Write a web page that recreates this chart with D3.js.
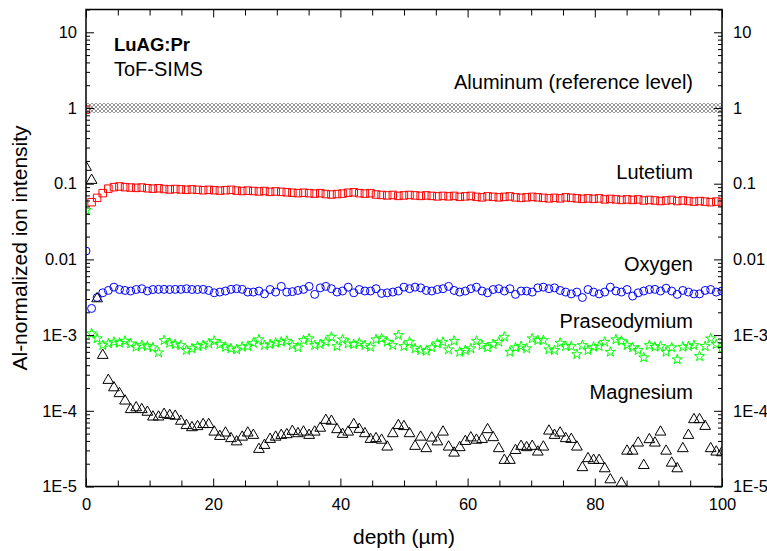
<!DOCTYPE html>
<html>
<head>
<meta charset="utf-8">
<script src="https://cdn.jsdelivr.net/npm/d3@7"></script>
<style>
  body { margin: 0; background: #fff; }
  svg { display: block; font-family: "Liberation Sans", Arial, sans-serif; }
</style>
</head>
<body>
<div id="chart"></div>
<script>
/* depth sampling (µm) */
var depth = [0, 0.88, 1.75, 2.63, 3.51, 4.39, 5.26, 6.14, 7.02, 7.89, 8.77, 9.65, 10.52, 11.40, 12.28, 13.16, 14.03, 14.91, 15.79, 16.66,
  17.54, 18.42, 19.29, 20.17, 21.05, 21.93, 22.80, 23.68, 24.56, 25.43, 26.31, 27.19, 28.06, 28.94, 29.82, 30.70, 31.57, 32.45, 33.33, 34.20,
  35.08, 35.96, 36.83, 37.71, 38.59, 39.47, 40.34, 41.22, 42.10, 42.97, 43.85, 44.73, 45.60, 46.48, 47.36, 48.24, 49.11, 49.99, 50.87, 51.74,
  52.62, 53.50, 54.37, 55.25, 56.13, 57.01, 57.88, 58.76, 59.64, 60.51, 61.39, 62.27, 63.14, 64.02, 64.90, 65.78, 66.65, 67.53, 68.41, 69.28,
  70.16, 71.04, 71.91, 72.79, 73.67, 74.55, 75.42, 76.30, 77.18, 78.05, 78.93, 79.81, 80.68, 81.56, 82.44, 83.32, 84.19, 85.07, 85.95, 86.82,
  87.70, 88.58, 89.45, 90.33, 91.21, 92.09, 92.96, 93.84, 94.72, 95.59, 96.47, 97.35, 98.22, 99.10, 99.98];

/* Al-normalisierte Intensitäten */
var lutetium = [0.95, 0.057, 0.065, 0.075, 0.086, 0.090, 0.092, 0.090, 0.089, 0.088, 0.089, 0.087, 0.086, 0.087, 0.085, 0.084, 0.085, 0.084, 0.083, 0.084,
  0.083, 0.082, 0.083, 0.082, 0.081, 0.082, 0.083, 0.081, 0.080, 0.081, 0.080, 0.079, 0.080, 0.078, 0.079, 0.078, 0.077, 0.076, 0.075, 0.076,
  0.075, 0.074, 0.075, 0.073, 0.072, 0.073, 0.074, 0.076, 0.077, 0.075, 0.074, 0.075, 0.072, 0.071, 0.070, 0.071, 0.069, 0.070, 0.071, 0.070,
  0.069, 0.070, 0.069, 0.068, 0.069, 0.068, 0.069, 0.067, 0.068, 0.069, 0.067, 0.066, 0.068, 0.067, 0.066, 0.067, 0.068, 0.066, 0.065, 0.066,
  0.067, 0.066, 0.065, 0.064, 0.065, 0.064, 0.066, 0.065, 0.064, 0.063, 0.064, 0.063, 0.064, 0.062, 0.063, 0.062, 0.061, 0.062, 0.061, 0.062,
  0.060, 0.061, 0.060, 0.059, 0.060, 0.061, 0.059, 0.060, 0.059, 0.058, 0.059, 0.058, 0.057, 0.058, 0.057];

var oxygen = [0.0129, 0.00225, 0.00314, 0.00362, 0.00389, 0.0043, 0.0040, 0.00389, 0.00382, 0.0040, 0.0041, 0.00382, 0.0040, 0.00402, 0.00402, 0.0040, 0.00402, 0.00402, 0.0041, 0.0040,
  0.0040, 0.00402, 0.00389, 0.00362, 0.0037, 0.00382, 0.00402, 0.0041, 0.00402, 0.0037, 0.0037, 0.00382, 0.0035, 0.0040, 0.0037, 0.0044, 0.0037, 0.00375, 0.00389, 0.00402,
  0.0044, 0.00345, 0.00421, 0.0044, 0.0041, 0.0037, 0.00382, 0.0043, 0.00362, 0.0040, 0.00382, 0.00382, 0.0041, 0.00355, 0.00362, 0.0037, 0.00382, 0.0043, 0.0041, 0.0043,
  0.00421, 0.00389, 0.00382, 0.0040, 0.0041, 0.0044, 0.00389, 0.0037, 0.00382, 0.0041, 0.0043, 0.00382, 0.00362, 0.0040, 0.0041, 0.00382, 0.0041, 0.00345, 0.00382, 0.00382,
  0.0037, 0.00421, 0.0043, 0.0041, 0.00421, 0.00389, 0.0037, 0.0035, 0.0037, 0.00314, 0.0040, 0.0037, 0.0035, 0.0037, 0.0043, 0.00382, 0.0037, 0.0040, 0.00328, 0.00362,
  0.00382, 0.0040, 0.00402, 0.00382, 0.00416, 0.00382, 0.00345, 0.00389, 0.0037, 0.0035, 0.0035, 0.00389, 0.0040, 0.0037, 0.00382];

var praseodymium = [0.0445, 1.05e-3, 0.90e-3, 0.733e-3, 0.772e-3, 0.811e-3, 0.787e-3, 0.836e-3, 0.772e-3, 0.697e-3, 0.733e-3, 0.711e-3, 0.684e-3, 0.587e-3, 0.853e-3, 0.787e-3, 0.755e-3, 0.733e-3, 0.630e-3, 0.664e-3,
  0.711e-3, 0.733e-3, 0.772e-3, 0.836e-3, 0.755e-3, 0.697e-3, 0.664e-3, 0.643e-3, 0.697e-3, 0.711e-3, 0.787e-3, 0.873e-3, 0.733e-3, 0.755e-3, 0.787e-3, 0.811e-3, 0.836e-3, 0.733e-3, 0.684e-3, 0.853e-3,
  0.90e-3, 0.733e-3, 0.755e-3, 0.811e-3, 0.944e-3, 0.711e-3, 0.873e-3, 0.772e-3, 0.755e-3, 0.787e-3, 0.733e-3, 0.697e-3, 0.873e-3, 0.90e-3, 0.811e-3, 0.733e-3, 0.994e-3, 0.711e-3, 0.811e-3, 0.664e-3,
  0.630e-3, 0.616e-3, 0.684e-3, 0.772e-3, 0.811e-3, 0.643e-3, 0.836e-3, 0.598e-3, 0.630e-3, 0.664e-3, 0.836e-3, 0.733e-3, 0.684e-3, 0.755e-3, 0.811e-3, 0.944e-3, 0.598e-3, 0.684e-3, 0.711e-3, 0.664e-3,
  0.90e-3, 0.853e-3, 0.853e-3, 0.643e-3, 0.630e-3, 0.787e-3, 0.711e-3, 0.711e-3, 0.557e-3, 0.733e-3, 0.630e-3, 0.697e-3, 0.711e-3, 0.811e-3, 0.598e-3, 0.873e-3, 0.836e-3, 0.733e-3, 0.684e-3, 0.630e-3,
  0.505e-3, 0.733e-3, 0.697e-3, 0.711e-3, 0.598e-3, 0.684e-3, 0.475e-3, 0.697e-3, 0.711e-3, 0.733e-3, 0.525e-3, 0.711e-3, 0.90e-3, 0.755e-3, 0.664e-3];

var magnesium = [0.165, 0.111, 0.00303, 5.41e-4, 2.53e-4, 2.02e-4, 1.69e-4, 1.35e-4, 1.04e-4, 1.10e-4, 1.04e-4, 0.96e-4, 0.83e-4, 0.83e-4, 0.90e-4, 0.87e-4, 0.85e-4, 0.73e-4, 0.64e-4, 0.60e-4,
  0.62e-4, 0.66e-4, 0.66e-4, 0.525e-4, 0.46e-4, 0.51e-4, 0.43e-4, 0.39e-4, 0.45e-4, 0.51e-4, 0.475e-4, 0.31e-4, 0.35e-4, 0.42e-4, 0.45e-4, 0.475e-4, 0.485e-4, 0.536e-4, 0.50e-4, 0.525e-4,
  0.475e-4, 0.525e-4, 0.59e-4, 0.75e-4, 0.73e-4, 0.565e-4, 0.49e-4, 0.525e-4, 0.66e-4, 0.57e-4, 0.50e-4, 0.42e-4, 0.43e-4, 0.41e-4, 0.333e-4, 0.50e-4, 0.64e-4, 0.62e-4, 0.50e-4, 0.34e-4,
  0.45e-4, 0.317e-4, 0.438e-4, 0.39e-4, 0.525e-4, 0.333e-4, 0.277e-4, 0.327e-4, 0.395e-4, 0.44e-4, 0.41e-4, 0.42e-4, 0.565e-4, 0.443e-4, 0.317e-4, 0.222e-4, 0.222e-4, 0.30e-4, 0.34e-4, 0.327e-4,
  0.34e-4, 0.286e-4, 0.333e-4, 0.541e-4, 0.475e-4, 0.51e-4, 0.43e-4, 0.42e-4, 0.333e-4, 0.178e-4, 0.234e-4, 0.222e-4, 0.222e-4, 0.172e-4, 0.123e-4, null, 0.111e-4, 0.294e-4, 0.294e-4, 0.376e-4,
  0.19e-4, 0.417e-4, 0.376e-4, 0.525e-4, 0.294e-4, 0.204e-4, 0.172e-4, 0.317e-4, 0.475e-4, 0.766e-4, 0.766e-4, 0.624e-4, 0.317e-4, 0.286e-4, 0.28e-4];

var aluminumLevel = 1;

/* Achsen */
var xTicks = [0, 20, 40, 60, 80, 100];
var xMinorTicks = [5, 10, 15, 25, 30, 35, 45, 50, 55, 65, 70, 75, 85, 90, 95];
var yTicks = [1e-5, 1e-4, 1e-3, 0.01, 0.1, 1, 10];
var yTickLabels = ["1E-5", "1E-4", "1E-3", "0.01", "0.1", "1", "10"];

/* Zeichenfläche */
var W = 767, H = 551;
var margin = {top: 9.5, right: 45, bottom: 64.5, left: 86};
var width = W - margin.left - margin.right,
    height = H - margin.top - margin.bottom;

var svg = d3.select("#chart").append("svg").attr("width", W).attr("height", H);
svg.append("rect").attr("width", W).attr("height", H).attr("fill", "white");

var x = d3.scaleLinear().domain([0, 100]).range([margin.left, margin.left + width]);
var y = d3.scaleLog().domain([1e-5, 20]).range([margin.top + height, margin.top]);

var yMinor = [];
yTicks.forEach(function(t) {
  for (var k = 2; k <= 9; k++) if (t * k <= 20) yMinor.push(t * k);
});

var defs = svg.append("defs");
defs.append("clipPath").attr("id", "plotclip").append("rect")
  .attr("x", margin.left).attr("y", margin.top).attr("width", width).attr("height", height);
var pat = defs.append("pattern").attr("id", "hatch").attr("patternUnits", "userSpaceOnUse")
  .attr("width", 4).attr("height", 4).attr("x", 0).attr("y", y(aluminumLevel) - 5);
pat.append("path").attr("d", "M0,0L4,4M4,0L0,4").attr("stroke", "#999").attr("stroke-width", 1).attr("fill", "none");

var plot = svg.append("g").attr("clip-path", "url(#plotclip)");

/* Aluminium-Referenzband */
plot.append("rect")
  .attr("x", x(0)).attr("width", x(100) - x(0))
  .attr("y", y(aluminumLevel) - 5).attr("height", 10)
  .attr("fill", "url(#hatch)");

function drawSeries(values, symbol, size, color) {
  var pts = depth.map(function(d, i) { return {d: d, v: values[i]}; })
    .filter(function(p) { return p.v != null; });
  plot.append("g").selectAll("path").data(pts).enter().append("path")
    .attr("transform", function(p) { return "translate(" + x(p.d) + "," + y(p.v) + ")"; })
    .attr("d", d3.symbol().type(symbol).size(size))
    .attr("fill", "none").attr("stroke", color).attr("stroke-width", 1);
}

drawSeries(lutetium, d3.symbolSquare, 56, "#ff0000");
drawSeries(oxygen, d3.symbolCircle, 50, "#0000ff");
drawSeries(praseodymium, d3.symbolStar, 32, "#00ff00");
drawSeries(magnesium, d3.symbolTriangle, 50, "#000000");

/* Ticks */
function styleAxis(g) {
  g.select(".domain").remove();
  g.selectAll("line").attr("stroke", "#000").attr("stroke-width", 1);
  g.selectAll("text").attr("font-size", "16.5px").attr("fill", "#000").attr("font-family", "Liberation Sans, Arial, sans-serif");
}

svg.append("g").attr("transform", "translate(0," + (margin.top + height) + ")")
  .call(d3.axisBottom(x).tickValues(xTicks).tickSize(-8).tickPadding(12).tickFormat(d3.format("d"))).call(styleAxis);
svg.append("g").attr("transform", "translate(0," + (margin.top + height) + ")")
  .call(d3.axisBottom(x).tickValues(xMinorTicks).tickSize(-6).tickFormat("")).call(styleAxis);
svg.append("g").attr("transform", "translate(0," + margin.top + ")")
  .call(d3.axisTop(x).tickValues(xTicks).tickSize(-8).tickFormat("")).call(styleAxis);
svg.append("g").attr("transform", "translate(0," + margin.top + ")")
  .call(d3.axisTop(x).tickValues(xMinorTicks).tickSize(-6).tickFormat("")).call(styleAxis);

svg.append("g").attr("transform", "translate(" + margin.left + ",0)")
  .call(d3.axisLeft(y).tickValues(yTicks).tickSize(-8).tickPadding(9).tickFormat(function(d, i) { return yTickLabels[i]; })).call(styleAxis);
svg.append("g").attr("transform", "translate(" + margin.left + ",0)")
  .call(d3.axisLeft(y).tickValues(yMinor).tickSize(-4).tickFormat("")).call(styleAxis);
svg.append("g").attr("transform", "translate(" + (margin.left + width) + ",0)")
  .call(d3.axisRight(y).tickValues(yTicks).tickSize(-8).tickPadding(11).tickFormat(function(d, i) { return yTickLabels[i]; })).call(styleAxis);
svg.append("g").attr("transform", "translate(" + (margin.left + width) + ",0)")
  .call(d3.axisRight(y).tickValues(yMinor).tickSize(-4).tickFormat("")).call(styleAxis);

/* Rahmen */
svg.append("rect").attr("x", margin.left).attr("y", margin.top).attr("width", width).attr("height", height)
  .attr("fill", "none").attr("stroke", "#000").attr("stroke-width", 1.5);

/* Beschriftung */
svg.append("text").attr("x", margin.left + width / 2).attr("y", 544).attr("text-anchor", "middle")
  .attr("font-size", "21px").text("depth (µm)");
svg.append("text").attr("transform", "translate(27," + (margin.top + height / 2) + ") rotate(-90)")
  .attr("text-anchor", "middle").attr("font-size", "21px").text("Al-normalized ion intensity");

svg.append("text").attr("x", 114).attr("y", 51).attr("font-size", "18.5px").attr("font-weight", "bold").text("LuAG:Pr");
svg.append("text").attr("x", 114).attr("y", 76).attr("font-size", "20px").text("ToF-SIMS");

var labelX = 693;
[["Aluminum (reference level)", 89], ["Lutetium", 179], ["Oxygen", 271], ["Praseodymium", 328], ["Magnesium", 399]]
  .forEach(function(l) {
    svg.append("text").attr("x", labelX).attr("y", l[1]).attr("text-anchor", "end").attr("font-size", "20px").text(l[0]);
  });
</script>
</body>
</html>
